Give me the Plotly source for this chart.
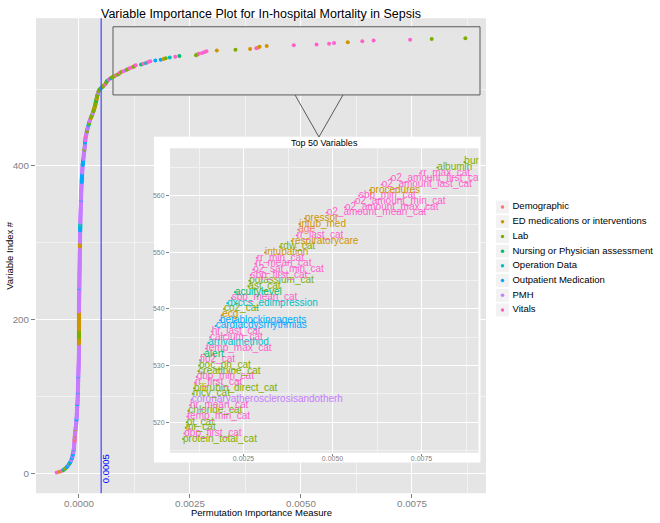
import plotly.graph_objects as go

categories = ["Demographic", "ED medications or interventions", "Lab",
              "Nursing or Physician assessment", "Operation Data",
              "Outpatient Medication", "PMH", "Vitals"]
category_codes = ["D", "E", "L", "N", "O", "M", "P", "V"]
category_colors = ["#F8766D", "#CD9600", "#7CAE00", "#00BE67",
                   "#00BFC4", "#00A9FF", "#C77CFF", "#FF61CC"]

# permutation importance of variables 1..516, sorted (units of 1e-6)
lower_importance = [
    -502, -440, -390, -360, -335, -315, -295, -278, -262, -248,
    -235, -222, -210, -200, -191, -183, -176, -170, -164, -158,
    -153, -148, -144, -140, -136, -132, -129, -126, -123, -120,
    -118, -116, -114, -112, -110, -108, -106, -105, -104, -103,
    -102, -101, -100, -99, -98, -97, -96, -95, -94, -92,
    -90, -88, -86, -84, -82, -80, -78, -76, -74, -72,
    -70, -68, -66, -64, -62, -60, -59, -58, -57, -56,
    -55, -54, -53, -52, -51, -50, -49, -48, -47, -46,
    -45, -44, -43, -42, -41, -40, -39, -38, -37, -36,
    -35, -34, -33, -32, -31, -30, -30, -29, -29, -28,
    -28, -27, -27, -26, -26, -25, -25, -24, -24, -23,
    -23, -22, -22, -21, -21, -20, -20, -19, -19, -18,
    -18, -17, -17, -16, -16, -15, -15, -14, -14, -13,
    -13, -12, -12, -11, -11, -10, -10, -9, -9, -8,
    -8, -7, -7, -6, -6, -5, -5, -4, -4, -3,
    -3, -3, -2, -2, -2, -1, -1, -1, 0, 0,
    0, 0, 0, 0, 0, 0, 0, 0, 0, 0,
    0, 0, 0, 0, 0, 0, 0, 0, 0, 0,
    0, 0, 0, 0, 0, 0, 0, 0, 0, 0,
    0, 0, 0, 0, 0, 0, 0, 0, 0, 0,
    0, 0, 0, 0, 0, 0, 0, 0, 0, 0,
    0, 0, 0, 1, 1, 1, 1, 2, 2, 2,
    2, 3, 3, 3, 3, 4, 4, 4, 4, 5,
    5, 5, 5, 6, 6, 6, 6, 7, 7, 7,
    7, 8, 8, 8, 8, 9, 9, 9, 9, 10,
    10, 10, 10, 11, 11, 11, 11, 12, 12, 12,
    12, 13, 13, 13, 13, 14, 14, 14, 14, 15,
    15, 15, 15, 16, 16, 16, 16, 17, 17, 17,
    17, 18, 18, 18, 18, 19, 19, 19, 19, 20,
    20, 20, 20, 21, 21, 21, 21, 22, 22, 22,
    22, 23, 23, 23, 24, 24, 24, 25, 25, 25,
    26, 26, 26, 27, 27, 27, 28, 28, 28, 29,
    29, 29, 30, 30, 30, 31, 31, 31, 32, 32,
    32, 33, 33, 34, 34, 35, 35, 36, 36, 37,
    37, 38, 38, 39, 39, 40, 40, 41, 41, 42,
    42, 43, 43, 44, 44, 45, 45, 46, 46, 47,
    48, 48, 49, 50, 50, 51, 52, 52, 53, 54,
    54, 55, 56, 57, 57, 58, 59, 60, 61, 62,
    62, 63, 64, 65, 66, 67, 68, 69, 70, 71,
    72, 73, 74, 75, 76, 77, 78, 79, 80, 81,
    82, 84, 86, 88, 90, 92, 94, 96, 98, 100,
    102, 104, 106, 108, 110, 112, 114, 116, 118, 120,
    121, 123, 125, 127, 129, 131, 133, 134, 135, 136,
    137, 139, 141, 143, 145, 147, 149, 151, 155, 159,
    163, 167, 171, 175, 179, 183, 187, 191, 195, 200,
    205, 210, 215, 220, 225, 230, 235, 240, 245, 250,
    257, 264, 271, 278, 285, 292, 299, 306, 313, 320,
    325, 330, 335, 340, 345, 350, 355, 360, 364, 368,
    372, 376, 380, 384, 388, 392, 396, 400, 404, 408,
    412, 416, 420, 425, 430, 436, 443, 450, 460, 475,
    495, 512, 530, 548, 566, 584, 600, 612, 620, 628,
    645, 665, 690, 715, 740, 770,
]

# category of variables 1..516 as (code, number of variables in a row)
lower_category_runs = [
    ("V", 1), ("E", 1), ("V", 1), ("L", 1), ("M", 1), ("L", 1), ("E", 1),
    ("O", 1), ("M", 2), ("P", 1), ("M", 1), ("L", 1), ("M", 2), ("O", 1),
    ("P", 3), ("M", 2), ("P", 2), ("M", 3), ("P", 4), ("O", 1), ("P", 10),
    ("V", 2), ("E", 1), ("V", 1), ("P", 2), ("V", 1), ("E", 1), ("P", 3),
    ("V", 1), ("P", 3), ("E", 1), ("P", 12), ("M", 2), ("P", 18), ("M", 1),
    ("P", 14), ("M", 1), ("P", 20), ("M", 1), ("P", 42), ("E", 8), ("L", 10),
    ("E", 24), ("P", 30), ("M", 1), ("P", 53), ("E", 6), ("P", 15), ("M", 5),
    ("O", 5), ("P", 30), ("M", 1), ("P", 22), ("M", 12), ("P", 10), ("M", 8),
    ("P", 12), ("L", 2), ("P", 7), ("M", 3), ("V", 2), ("P", 3), ("V", 3),
    ("P", 4), ("L", 3), ("P", 5), ("O", 2), ("L", 3), ("P", 4), ("E", 2),
    ("L", 4), ("P", 3), ("L", 5), ("E", 3), ("L", 6), ("N", 2), ("E", 3),
    ("L", 5), ("P", 2), ("L", 4), ("M", 2), ("L", 3), ("V", 2), ("L", 3),
    ("N", 1), ("V", 2), ("M", 1), ("L", 2),
]

# top 50 variables, variable 517..566
top50_names = [
    "protein_total_cat", "dbp_first_cat", "inr_cat", "pt_cat", "temp_min_cat",
    "chloride_cat", "hr_mean_cat", "coronaryatherosclerosisandotherh",
    "mcv_cat", "bilirubin_direct_cat", "rr_first_cat", "dbp_min_cat",
    "creatinine_cat", "boc_ph_cat", "fio2_cat", "alert", "temp_max_cat",
    "arrivalmethod", "calcium_cat", "hr_last_cat", "cardiacdysrhythmias",
    "betablockingagents", "ecg", "co2_cat", "dxccs_edimpression",
    "sbp_mean_cat", "acuitylevel", "ast_cat", "potassium_cat", "sbp_first_cat",
    "o2_sat_min_cat", "rr_mean_cat", "rr_min_cat", "intubation", "rdw_cat",
    "respiratorycare", "rr_last_cat", "age", "intub_med", "pressor",
    "o2_amount_mean_cat", "o2_amount_max_cat", "o2_amount_min_cat",
    "sbp_min_cat", "procedures", "o2_amount_last_cat", "o2_amount_first_cat",
    "rr_max_cat", "albumin", "bun",
]
top50_codes = [
    "L", "V", "L", "L", "V", "L", "V", "P", "L", "L", "V", "V", "L", "L", "V",
    "N", "V", "O", "V", "V", "M", "M", "E", "L", "O", "V", "N", "L", "L", "V",
    "V", "V", "V", "E", "L", "E", "V", "D", "E", "E", "V", "V", "V", "V", "E",
    "V", "V", "V", "L", "L",
]
top50_importance = [
    800, 837, 876, 905, 921, 950, 997, 1045, 1073, 1110,
    1138, 1185, 1230, 1250, 1278, 1399, 1447, 1511, 1559, 1607,
    1719, 1840, 1904, 1952, 2045, 2169, 2261, 2635, 2663, 2702,
    2775, 2831, 2871, 3104, 3525, 3854, 3994, 4039, 4067, 4228,
    4837, 5351, 5632, 5744, 6053, 6382, 6635, 7458, 7944, 8702,
]

cutoff = 0.0005

code_color = dict(zip(category_codes, category_colors))
lower_codes = [c for c, n in lower_category_runs for _ in range(n)]
assert len(lower_codes) == len(lower_importance) == 516

importance = [v * 1e-6 for v in lower_importance + top50_importance]
codes = lower_codes + top50_codes
var_index = list(range(1, len(importance) + 1))
point_colors = [code_color[c] for c in codes]

font = "Liberation Sans"

# page body margin is removed below, so paper pixels are page pixels
FW, FH = 660, 523


def px(x):
    return x / FW


def py(y):
    return 1 - y / FH


fig = go.Figure()

# main panel
fig.add_trace(go.Scatter(x=importance, y=var_index, mode="markers",
                         marker=dict(size=4, color=point_colors),
                         showlegend=False, hoverinfo="x+y"))
# white frame behind the inset
fig.add_trace(go.Scatter(x=[None], y=[None], xaxis="x2", yaxis="y2",
                         showlegend=False, hoverinfo="skip"))
# inset: top 50 variables
top_x = importance[-50:]
top_y = var_index[-50:]
top_colors = point_colors[-50:]
fig.add_trace(go.Scatter(x=top_x, y=top_y, mode="markers", xaxis="x3", yaxis="y3",
                         marker=dict(size=2, color=top_colors),
                         showlegend=False, hoverinfo="skip"))
fig.add_trace(go.Scatter(x=top_x, y=top_y, mode="text", xaxis="x3", yaxis="y3",
                         text=top50_names, textposition="middle right",
                         textfont=dict(family=font, size=10, color=top_colors),
                         showlegend=False, hoverinfo="text"))

# legend drawn as its own little panel
legend_rows = list(range(1, len(categories) + 1))
fig.add_trace(go.Scatter(x=[0.0455] * len(categories), y=legend_rows, mode="markers",
                         xaxis="x4", yaxis="y4",
                         marker=dict(symbol="square", size=14, color="#F2F2F2",
                                     line=dict(color="white", width=1)),
                         showlegend=False, hoverinfo="skip"))
fig.add_trace(go.Scatter(x=[0.0455] * len(categories), y=legend_rows, mode="markers",
                         xaxis="x4", yaxis="y4",
                         marker=dict(size=3.5, color=category_colors),
                         showlegend=False, hoverinfo="skip"))
fig.add_trace(go.Scatter(x=[0.106] * len(categories), y=legend_rows, mode="text",
                         xaxis="x4", yaxis="y4", text=categories,
                         textposition="middle right",
                         textfont=dict(family=font, size=9.5, color="black"),
                         showlegend=False, hoverinfo="skip"))

tick_style = dict(showgrid=True, gridcolor="white", gridwidth=1.2, zeroline=False,
                  showline=False, ticks="outside", tickcolor="#7F7F7F",
                  fixedrange=True)
hidden = dict(visible=False, range=[0, 1], fixedrange=True)

fig.update_layout(
    width=FW, height=FH,
    margin=dict(l=0, r=0, t=0, b=0),
    paper_bgcolor="white", plot_bgcolor="white",
    font=dict(family=font, color="black"),
    title=dict(text="Variable Importance Plot for In-hospital Mortality in Sepsis",
               x=px(261), y=py(13.2), xref="container", yref="container",
               xanchor="center", yanchor="middle",
               font=dict(size=12.5, color="black")),
    xaxis=dict(tick_style, domain=[px(36), px(486)], range=[-0.000968, 0.009167],
               tick0=0, dtick=0.0025, tickformat=".4f", ticklen=4,
               ticklabelstandoff=-3,
               tickfont=dict(size=9.8, color="#7F7F7F"),
               minor=dict(dtick=0.00125, tick0=0, showgrid=True,
                          gridcolor="#F2F2F2", gridwidth=0.6),
               anchor="y"),
    yaxis=dict(tick_style, domain=[py(493.3), py(18.3)], range=[-26, 592],
               tick0=0, dtick=200, ticklen=4,
               tickfont=dict(size=9.8, color="#7F7F7F"),
               minor=dict(dtick=100, tick0=0, showgrid=True,
                          gridcolor="#F2F2F2", gridwidth=0.6),
               anchor="x"),
    xaxis2=dict(hidden, domain=[px(154), px(480.5)], anchor="y2"),
    yaxis2=dict(hidden, domain=[py(462.5), py(136.7)], anchor="x2"),
    xaxis3=dict(tick_style, domain=[px(170), px(478.5)], range=[0.000435, 0.0091],
                tick0=0, dtick=0.0025, tickformat=".4f", ticklen=2,
                ticklabelstandoff=-3,
                tickfont=dict(size=7, color="#7F7F7F"),
                minor=dict(dtick=0.00125, tick0=0, showgrid=True,
                           gridcolor="#F2F2F2", gridwidth=0.5),
                anchor="y3"),
    yaxis3=dict(tick_style, domain=[py(452.7), py(148.3)], range=[514.6, 568.4],
                tick0=0, dtick=10, ticklen=3,
                tickfont=dict(size=7, color="#7F7F7F"),
                minor=dict(dtick=5, tick0=0, showgrid=True,
                           gridcolor="#F2F2F2", gridwidth=0.5),
                anchor="x3"),
    xaxis4=dict(hidden, domain=[px(495), 1.0], anchor="y4"),
    yaxis4=dict(visible=False, range=[len(categories) + 0.5, 0.5], fixedrange=True,
                domain=[py(317.35), py(199.65)], anchor="x4"),
    showlegend=False,
)

# panel backgrounds
fig.add_shape(type="rect", xref="x", yref="y", x0=-0.01, x1=0.02, y0=-100, y1=700,
              fillcolor="#E5E5E5", line_width=0, layer="below")
fig.add_shape(type="rect", xref="x3", yref="y3", x0=0, x1=0.01, y0=500, y1=580,
              fillcolor="#E5E5E5", line_width=0, layer="below")

# zoom box around the top 50 and its pointer to the inset
fig.add_shape(type="rect", xref="x", yref="y", x0=0.000766, x1=0.009032,
              y0=492.3, y1=581, fillcolor="#E5E5E5",
              line=dict(color="#5A5A5A", width=1), layer="between")
fig.add_shape(type="path", xref="x", yref="y",
              path="M 0.004865,492.3 L 0.005405,437.6 L 0.005946,492.3",
              line=dict(color="#5A5A5A", width=1), layer="above")

# cutoff line
fig.add_shape(type="line", xref="x", yref="y", x0=cutoff, x1=cutoff, y0=-100, y1=700,
              line=dict(color="#5050FF", width=1.3), layer="above")
fig.add_annotation(x=cutoff, y=5.6, xref="x", yref="y", text="0.0005", showarrow=False,
                   textangle=-90, xshift=4, xanchor="center", yanchor="middle",
                   font=dict(size=9.5, color="#0000FF"))

# axis titles and inset title
fig.add_annotation(x=px(261), y=py(512.3), xref="paper", yref="paper",
                   text="Permutation Importance Measure", showarrow=False,
                   xanchor="center", yanchor="middle",
                   font=dict(size=9.5, color="black"))
fig.add_annotation(x=px(10), y=py(255.8), xref="paper", yref="paper",
                   text="Variable Index #", showarrow=False, textangle=-90,
                   xanchor="center", yanchor="middle",
                   font=dict(size=9.5, color="black"))
fig.add_annotation(x=px(324.3), y=py(142.5), xref="paper", yref="paper",
                   text="Top 50 Variables", showarrow=False,
                   xanchor="center", yanchor="middle",
                   font=dict(size=9, color="black"))

fig.write_html("out.html", config={"displayModeBar": False},
               post_script="document.body.style.margin = '0px';")
